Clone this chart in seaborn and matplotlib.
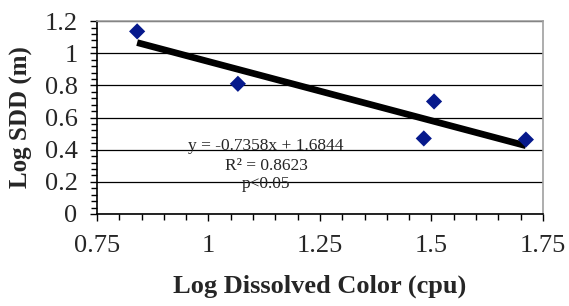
import matplotlib
matplotlib.use("Agg")

import matplotlib.pyplot as plt
import matplotlib.ticker as mticker
import seaborn as sns
import pandas as pd
import numpy as np

# --- data ---
log_color = [0.84, 1.066, 1.483, 1.506, 1.712]
log_sdd = [1.136, 0.810, 0.470, 0.700, 0.463]
slope = -0.7358
intercept = 1.6844
eq_lines = ["y = -0.7358x + 1.6844", "R² = 0.8623", "p<0.05"]
eq_y = [0.422, 0.298, 0.188]
x_ticks = [0.75, 1.0, 1.25, 1.5, 1.75]
y_ticks = [0, 0.2, 0.4, 0.6, 0.8, 1.0, 1.2]

sns.set_theme(style="white")
plt.rcParams.update({
    "font.family": ["Liberation Serif", "DejaVu Serif"],
    "axes.edgecolor": "black",
})

df = pd.DataFrame({"x": log_color, "y": log_sdd})
fig = plt.figure(figsize=(5.69, 3.06), dpi=100)
ax = fig.add_axes([0.1705, 0.3007, 0.7835, 0.6303])

# trendline across data range
xs = np.array([min(log_color), max(log_color)])
ax.plot(xs, slope * xs + intercept, color="black", linewidth=4.8,
        solid_capstyle="butt", zorder=3)

sns.scatterplot(data=df, x="x", y="y", marker="D", s=68, color="#06198c",
                edgecolor="none", ax=ax, zorder=4)

ax.set_xlim(0.75, 1.75)
ax.set_ylim(0, 1.2)
ax.set_xticks(x_ticks)
ax.set_yticks(y_ticks)
fmt = mticker.FuncFormatter(lambda v, _: f"{v:g}")
ax.xaxis.set_major_formatter(fmt)
ax.yaxis.set_major_formatter(fmt)
ax.xaxis.set_minor_locator(mticker.MultipleLocator(0.05))
ax.yaxis.set_minor_locator(mticker.MultipleLocator(0.04))
ax.tick_params(axis="both", which="major", direction="out", length=5, width=1,
               labelsize=19, color="black", pad=9)
ax.tick_params(axis="both", which="minor", direction="out", length=4, width=1,
               color="black")
ax.tick_params(axis="x", which="both", bottom=True)
ax.tick_params(axis="y", which="both", left=True)
ax.tick_params(axis="x", which="major", pad=10)

ax.yaxis.grid(True, color="black", linewidth=0.9)
ax.xaxis.grid(False)
ax.set_axisbelow(True)
for side in ["top", "right"]:
    ax.spines[side].set_color("#a0a0a0")
    ax.spines[side].set_linewidth(1.2)
for side in ["left", "bottom"]:
    ax.spines[side].set_linewidth(1.2)

ax.set_xlabel("Log Dissolved Color (cpu)", fontsize=19, fontweight="bold", labelpad=13)
ax.set_ylabel("Log SDD (m)", fontsize=18, fontweight="bold", labelpad=8)

for line, yv in zip(eq_lines, eq_y):
    ax.text(1.129, yv, line, ha="center", va="center", fontsize=12.5, zorder=5)

fig.savefig("out.png", dpi=100)
plt.close(fig)
